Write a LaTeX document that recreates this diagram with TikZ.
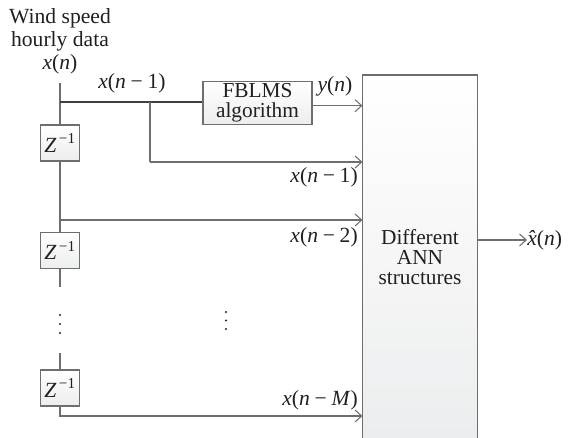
\documentclass[tikz,border=0pt]{standalone}
\usepackage{fontspec}
\setmainfont{Liberation Serif}
\usetikzlibrary{arrows.meta}
\definecolor{linegray}{HTML}{6D6E70}
\definecolor{darkline}{HTML}{3F3F3F}
\definecolor{boxfill}{HTML}{ECEDEE}
\definecolor{txt}{HTML}{231F20}
\newcommand{\mns}{\kern0.22em−\kern0.22em}
\begin{document}
\begin{tikzpicture}[x=0.75pt,y=-0.75pt,
  font=\fontsize{16.2}{18}\selectfont, text=txt,
  wire/.style={draw=linegray,line width=1.1pt},
  arr/.style={wire,-{Straight Barb[length=5pt,width=9pt,line width=0.8pt]}},
  zbox/.style={draw=linegray,line width=1pt,top color=white,bottom color=boxfill,
    minimum width=29.25pt,minimum height=27pt,inner sep=0pt},
  fbbox/.style={draw=linegray,line width=1pt,top color=white,bottom color=boxfill,
    minimum width=81.75pt,minimum height=32pt,inner sep=0pt,align=center,
    font=\fontsize{16}{15}\selectfont},
  lbl/.style={inner sep=0pt}]
\useasboundingbox (0,0) rectangle (571,438);
% big ANN box (runs off the bottom)
\shade[top color=white,bottom color=boxfill] (362.5,75) rectangle (477.5,438);
\draw[linegray,line width=1pt] (362.5,438) -- (362.5,75) -- (477.5,75) -- (477.5,438);
\coordinate (annL) at (362.5,75);
\coordinate (annR) at (477.5,240);
\node[lbl,align=center,font=\fontsize{16}{15.2}\selectfont] (ann) at (420,257) {Different\\ANN\\structures};
% labels
\node[lbl] (ws) at (60,18) {Wind speed};
\node[lbl] (hd) at (60,41) {hourly data};
\node[lbl] (xn) at (60,64) {\textit{x}(\textit{n})};
% nodes
\coordinate (top) at (60,83);
\coordinate (j0) at (60,102);
\coordinate (b1) at (150,102);
\coordinate (b1d) at (150,162);
\node[zbox] (z1) at (60,143) {\textit{Z}\textsuperscript{\,−1}};
\coordinate (j1) at (60,220);
\node[zbox] (z2) at (60,250.5) {\textit{Z}\textsuperscript{\,−1}};
\coordinate (e2) at (60,287);
\coordinate (s3) at (60,353);
\node[zbox] (z3) at (60,388) {\textit{Z}\textsuperscript{\,−1}};
\coordinate (c3) at (60,416);
\node[fbbox] (fb) at (257.5,103) {FBLMS\\algorithm};
% wires
\draw[wire] (top) -- (z1.north);
\draw[darkline,line width=1.5pt] (j0) -- (j0 -| fb.west);
\draw[wire] (b1) -- (b1d);
\draw[arr] (b1d) -- (b1d -| annL);
\draw[arr] ([yshift=-2pt]fb.east) -- ([yshift=-2pt]fb.east -| annL);
\draw[wire] (z1.south) -- (z2.north);
\draw[arr] (j1) -- (j1 -| annL);
\draw[wire] (z2.south) -- (e2);
\draw[wire] (s3) -- (z3.north);
\draw[arr] (z3.south) |- (c3 -| annL);
% dots
\foreach \yy in {315,324,333} \fill[txt] (60,\yy) circle (1.1);
\foreach \yy in {312,320.5,329} \fill[txt] (226,\yy) circle (1.1);
% edge labels
\node[lbl] (l1) at (132,83) {\textit{x}(\textit{n}\mns1)};
\node[lbl] (ly) at (335,86) {\textit{y}(\textit{n})};
\node[lbl,anchor=east] (l2) at (358,177) {\textit{x}(\textit{n}\mns1)};
\node[lbl,anchor=east] (l3) at (358,237) {\textit{x}(\textit{n}\mns2)};
\node[lbl,anchor=east] (l4) at (358,400) {\textit{x}(\textit{n}\mns\textit{M})};
\node[lbl,anchor=west] (xh) at (527,240) {\textit{x}\llap{\textit{ˆ}\kern0.06em}(\textit{n})};
\draw[arr] (annR) -- (xh.west);
\end{tikzpicture}
\end{document}
